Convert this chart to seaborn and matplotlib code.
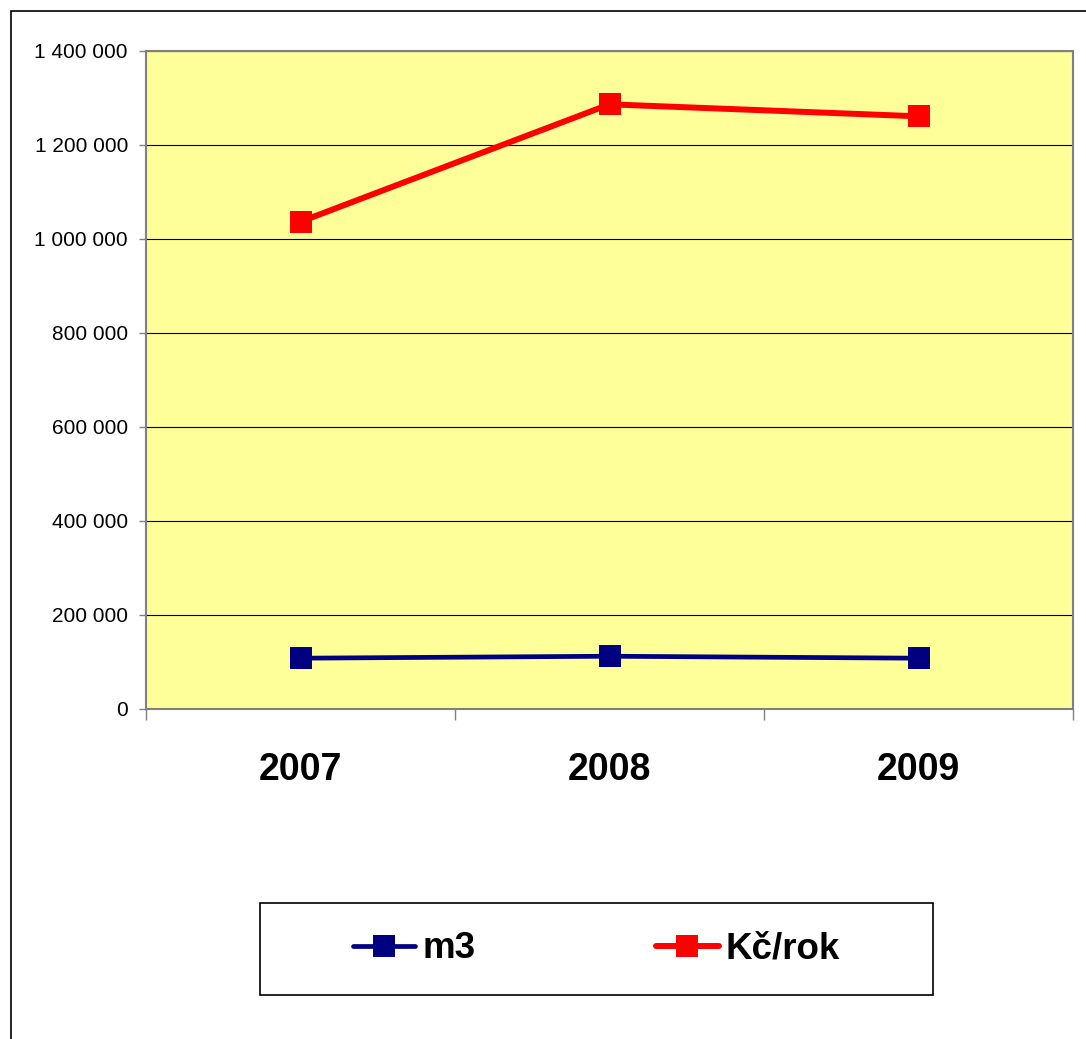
"""
Annual consumption chart: m3 vs. Kč/rok, 2007-2009.
"""

import numpy as np
import pandas as pd
import matplotlib
matplotlib.use("Agg")
import matplotlib.pyplot as plt
from matplotlib.patches import Rectangle
from matplotlib.ticker import FuncFormatter, FixedLocator
import seaborn as sns

years = ["2007", "2008", "2009"]
m3_values = [108100, 112300, 108100]
kc_values = [1036800, 1286600, 1261000]
series_names = ["m3", "Kč/rok"]
series_colors = ["#000080", "#FF0000"]

W, H = 1086, 1039

sns.set_style("white")
plt.rcParams["font.family"] = ["Liberation Sans", "DejaVu Sans"]
plt.rcParams["text.color"] = "black"
plt.rcParams["xtick.color"] = "black"
plt.rcParams["ytick.color"] = "black"

df = pd.DataFrame({
    "year": list(range(len(years))) * 2,
    "value": m3_values + kc_values,
    "series": [series_names[0]] * len(years) + [series_names[1]] * len(years),
})

fig = plt.figure(figsize=(W / 100, H / 100), dpi=100)
ax = fig.add_axes([146 / W, 1 - 709 / H, (1073 - 146) / W, (709 - 51) / H])
ax.set_facecolor("#FFFF99")

widths = {"m3": 3.4, "Kč/rok": 4.3}
for name, color in zip(series_names, series_colors):
    sub = df[df["series"] == name]
    sns.lineplot(data=sub, x="year", y="value", ax=ax, color=color,
                 marker="s", markersize=15.5, markeredgewidth=0,
                 linewidth=widths[name], label=name, legend=False)

ax.set_xlim(-0.5, len(years) - 0.5)
ax.set_ylim(0, 1400000)
ax.set_yticks(np.arange(0, 1400001, 200000))
ax.yaxis.set_major_formatter(FuncFormatter(lambda v, p: f"{int(v):,}".replace(",", " ")))
ax.yaxis.grid(True, color="#000000", linewidth=0.8)
ax.set_axisbelow(True)

ax.set_xticks(range(len(years)))
ax.set_xticklabels(years, fontsize=27, fontweight="bold", color="black")
ax.xaxis.set_minor_locator(FixedLocator(np.arange(-0.5, len(years), 1.0)))
ax.tick_params(axis="x", which="major", length=0, pad=31, labelcolor="black")
ax.tick_params(axis="x", which="minor", length=8, width=1, color="#808080", direction="out", bottom=True)
ax.tick_params(axis="y", length=5, width=1, color="#808080", direction="out", left=True, pad=8,
               labelsize=15, labelcolor="black")
ax.set_xlabel("")
ax.set_ylabel("")

for side in ["left", "bottom", "top", "right"]:
    ax.spines[side].set_color("#808080")
    ax.spines[side].set_linewidth(1.5)

# outer chart frame (cut off at right/bottom)
fig.add_artist(Rectangle((10.5 / W, -0.05), 1.2, 1 - 10.5 / H + 0.05,
                         transform=fig.transFigure, fill=False,
                         edgecolor="black", linewidth=1.2))

# legend box
fig.add_artist(Rectangle((260 / W, 1 - 995 / H), (933 - 260) / W, (995 - 903) / H,
                         transform=fig.transFigure, fill=False,
                         edgecolor="black", linewidth=1.2))
handles, labels = ax.get_legend_handles_labels()
leg = fig.legend(handles, labels, loc="center", bbox_to_anchor=(596.5 / W, 1 - 949 / H),
                 ncol=2, frameon=False, prop={"size": 26.5, "weight": "bold"},
                 handlelength=1.7, handletextpad=0.2, columnspacing=4.9)
for t in leg.get_texts():
    t.set_color("black")

plt.savefig("out.png", dpi=100)
plt.close()
